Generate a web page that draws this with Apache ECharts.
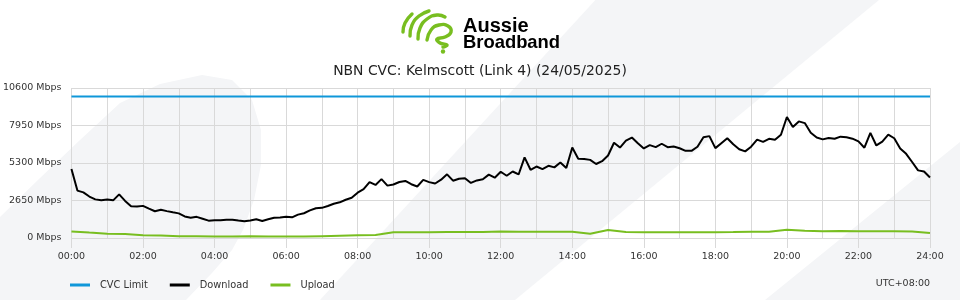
<!DOCTYPE html>
<html>
<head>
<meta charset="utf-8">
<script src="https://cdn.jsdelivr.net/npm/echarts@6/dist/echarts.min.js"></script>
<style>
html,body{margin:0;padding:0;background:#fff;}
#c{width:960px;height:300px;}
</style>
</head>
<body>
<div id="c"></div>
<script>
// ---- data ----
const titleText = 'NBN CVC: Kelmscott (Link 4) (24/05/2025)';
const seriesNames = ['CVC Limit', 'Download', 'Upload'];
const yTicks = [0, 2650, 5300, 7950, 10600];
const xTickLabels = ['00:00','02:00','04:00','06:00','08:00','10:00','12:00','14:00','16:00','18:00','20:00','22:00','24:00'];
const timezoneLabel = 'UTC+08:00';

// CVC limit (Mbps) at 00:00 and 24:00
const cvcHours = [0, 24];
const cvcLimitMbps = [10000, 10000];

// Download (Mbps), one value every 10 minutes from 00:00 to 24:00
const downloadMbps = [
  4870,3350,3225,2930,2730,2670,2720,2660,3080,2620,2240,2230,
  2270,2075,1890,1990,1900,1815,1740,1525,1430,1495,1360,1225,
  1260,1255,1290,1290,1230,1180,1240,1320,1200,1320,1435,1450,
  1500,1460,1650,1750,1950,2100,2130,2260,2420,2520,2700,2840,
  3200,3450,3950,3750,4160,3700,3780,3960,4030,3800,3640,4110,
  3950,3850,4120,4500,4050,4190,4220,3890,4070,4150,4480,4260,
  4680,4400,4700,4490,5700,4820,5050,4870,5100,4990,5330,4940,
  6400,5600,5590,5520,5230,5430,5830,6730,6390,6880,7100,6700,
  6330,6560,6420,6660,6420,6460,6340,6160,6160,6450,7120,7200,
  6350,6700,7050,6620,6270,6120,6450,6950,6790,7010,6950,7300,
  8550,7850,8240,8120,7440,7100,6970,7070,7010,7160,7120,7020,
  6830,6380,7430,6540,6810,7300,7050,6330,5950,5370,4780,4700,
  4280
];
const downloadStepMinutes = 10;

// Upload (Mbps), one value every 30 minutes from 00:00 to 24:00
const uploadMbps = [
  466,380,300,280,200,180,130,120,110,110,120,110,
  110,100,130,160,190,220,400,400,410,420,420,420,
  460,450,450,450,450,300,560,430,410,400,400,400,
  410,420,440,450,580,520,480,500,480,470,470,460,
  350
];
const uploadStepMinutes = 30;

// ---- build series data ----
const cvcData = cvcHours.map((h, i) => [h, cvcLimitMbps[i]]);
const dlData = downloadMbps.map((v, i) => [i * downloadStepMinutes / 60, v]);
const ulData = uploadMbps.map((v, i) => [i * uploadStepMinutes / 60, v]);

const FONT = '"DejaVu Sans", sans-serif';
const GREEN = '#78be20';
const BG = '#f4f5f7';
const GRID = '#d9d9d9';

const chart = echarts.init(document.getElementById('c'), null, {renderer: 'canvas'});

const option = {
  animation: false,
  backgroundColor: '#ffffff',
  grid: {left: 70, right: 30, top: 88, bottom: 62, containLabel: false},
  graphic: [
    // background watermark shapes
    {type: 'polygon', z: -100, silent: true,
     shape: {points: [[-5,222],[0,217],[40,178],[80,140],[120,103],[160,84],[202,75],[232,80],[252,100],[261,130],[261,165],[254,200],[243,230],[232,250],[212,273],[186,300],[180,310],[-5,310]]},
     style: {fill: BG}},
    {type: 'polygon', z: -100, silent: true,
     shape: {points: [[600,-5],[885,-5],[515,300],[515,310],[318,310],[320,300]]},
     style: {fill: BG}},
    {type: 'polygon', z: -100, silent: true,
     shape: {points: [[965,140],[960,142],[765,300],[765,310],[965,310]]},
     style: {fill: BG}},
    // logo icon
    {type: 'polyline', z: 100, silent: true,
     shape: {points: [[403,32],[405,23],[412,14]], smooth: 0.5},
     style: {stroke: GREEN, lineWidth: 3.4, lineCap: 'round', fill: null}},
    {type: 'polyline', z: 100, silent: true,
     shape: {points: [[410,36],[412,25],[419,16],[429,11]], smooth: 0.5},
     style: {stroke: GREEN, lineWidth: 3.4, lineCap: 'round', fill: null}},
    {type: 'polyline', z: 100, silent: true,
     shape: {points: [[418,39],[420,28],[427,19],[437,15],[445,17]], smooth: 0.5},
     style: {stroke: GREEN, lineWidth: 3.4, lineCap: 'round', fill: null}},
    {type: 'polyline', z: 100, silent: true,
     shape: {points: [[427,40],[431,30],[439,25],[448,26],[451,32],[445,37],[437,39],[440,43],[447,45],[443,47]], smooth: 0.5},
     style: {stroke: GREEN, lineWidth: 3.4, lineCap: 'round', lineJoin: 'round', fill: null}},
    {type: 'circle', z: 100, silent: true,
     shape: {cx: 443, cy: 51.5, r: 2.2},
     style: {fill: GREEN}},
    // logo text
    {type: 'text', z: 100, silent: true, x: 463, y: 26,
     style: {text: 'Aussie', fill: '#000', font: 'bold 20px "Liberation Sans", Arial, sans-serif', verticalAlign: 'middle', align: 'left'}},
    {type: 'text', z: 100, silent: true, x: 463, y: 42.5,
     style: {text: 'Broadband', fill: '#000', font: 'bold 18.4px "Liberation Sans", Arial, sans-serif', verticalAlign: 'middle', align: 'left'}},
    // title
    {type: 'text', z: 100, silent: true, x: 480, y: 71,
     style: {text: titleText, fill: '#222', font: '13.9px ' + FONT, verticalAlign: 'middle', align: 'center'}},
    // timezone label
    {type: 'text', z: 100, silent: true, x: 930, y: 284,
     style: {text: timezoneLabel, fill: '#333', font: '9.5px ' + FONT, verticalAlign: 'middle', align: 'right'}}
  ],
  legend: {
    left: 65, top: 275,
    icon: 'rect', itemWidth: 20, itemHeight: 3, itemGap: 22,
    data: seriesNames,
    textStyle: {fontFamily: 'DejaVu Sans', fontSize: 9.8, color: '#333', padding: [0,0,0,5]}
  },
  xAxis: {
    type: 'value', min: 0, max: 24, interval: 2,
    axisLine: {show: true, lineStyle: {color: GRID, width: 1}},
    axisTick: {show: true, length: 10, lineStyle: {color: GRID}},
    axisLabel: {
      margin: 14, color: '#333', fontFamily: 'DejaVu Sans', fontSize: 9.5,
      formatter: (v) => xTickLabels[Math.round(v / 2)] || ''
    },
    splitLine: {show: true, lineStyle: {color: GRID, width: 1}},
    minorTick: {show: false, splitNumber: 2},
    minorSplitLine: {show: true, lineStyle: {color: GRID, width: 1}}
  },
  yAxis: {
    type: 'value', min: yTicks[0], max: yTicks[yTicks.length - 1], interval: yTicks[1] - yTicks[0],
    axisLine: {show: false},
    axisTick: {show: false},
    axisLabel: {
      margin: 10, color: '#333', fontFamily: 'DejaVu Sans', fontSize: 9.5,
      formatter: (v) => v + ' Mbps'
    },
    splitLine: {show: true, lineStyle: {color: GRID, width: 1}}
  },
  series: [
    {name: seriesNames[0], type: 'line', data: cvcData, showSymbol: false, symbol: 'none',
     color: '#0f97d9', lineStyle: {width: 2, color: '#0f97d9'}, z: 3},
    {name: seriesNames[1], type: 'line', data: dlData, showSymbol: false, symbol: 'none',
     color: '#000000', lineStyle: {width: 2, color: '#000000'}, z: 4},
    {name: seriesNames[2], type: 'line', data: ulData, showSymbol: false, symbol: 'none',
     color: GREEN, lineStyle: {width: 2, color: GREEN}, z: 3}
  ]
};
chart.setOption(option);
</script>
</body>
</html>
